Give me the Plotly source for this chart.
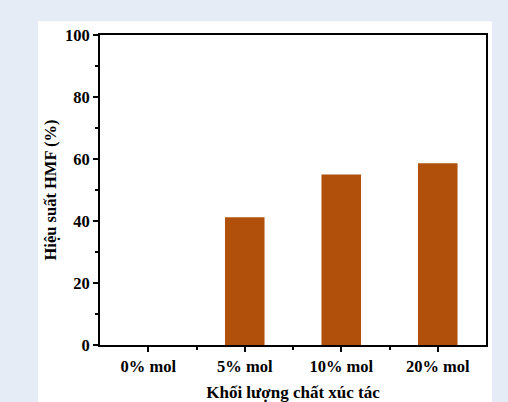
import plotly.graph_objects as go

# Catalyst loading categories and HMF yield (%)
categories = ["0% mol", "5% mol", "10% mol", "20% mol"]
hmf_yield = [0, 41.2, 55.0, 58.6]
y_ticks = [0, 20, 40, 60, 80, 100]

positions = list(range(len(categories)))

BAR_COLOR = "#B0500A"
FONT = "Liberation Serif"

fig = go.Figure(
    go.Bar(
        x=positions,
        y=hmf_yield,
        width=0.41,
        marker=dict(color=BAR_COLOR, line=dict(width=0)),
    )
)

fig.update_layout(
    width=508,
    height=402,
    margin=dict(l=100, r=22, t=35, b=57),
    paper_bgcolor="#E5ECF6",
    plot_bgcolor="white",
    showlegend=False,
    font=dict(family=FONT, color="black"),
    shapes=[
        # white card behind the chart
        dict(
            type="rect", xref="paper", yref="paper",
            x0=(38 - 100) / 386, x1=(492 - 100) / 386,
            y0=-0.19, y1=(345 - 21) / 310.3,
            fillcolor="white", line=dict(width=0), layer="below",
        )
    ],
)

fig.update_xaxes(
    range=[-0.5, 3.5],
    automargin=False,
    tickvals=positions,
    ticktext=categories,
    tickfont=dict(size=16.5, family=FONT, weight="bold"),
    ticks="outside", ticklen=5, tickwidth=2, tickcolor="black",
    minor=dict(tickvals=[0.5, 1.5, 2.5], ticks="outside", ticklen=3,
               tickwidth=2, tickcolor="black"),
    showline=True, linewidth=2, linecolor="black", mirror=True,
    showgrid=False, zeroline=False,
    title=dict(text="Khối lượng chất xúc tác",
               font=dict(size=17, family=FONT, weight="bold"), standoff=11),
)

fig.update_yaxes(
    range=[0, 100],
    automargin=False,
    tickvals=y_ticks,
    tickfont=dict(size=16.5, family=FONT, weight="bold"),
    ticks="outside", ticklen=5, tickwidth=2, tickcolor="black",
    minor=dict(dtick=10, tick0=0, ticks="outside", ticklen=3,
               tickwidth=2, tickcolor="black"),
    showline=True, linewidth=2, linecolor="black", mirror=True,
    showgrid=False, zeroline=False,
    title=dict(text="Hiệu suất HMF (%)",
               font=dict(size=16.5, family=FONT, weight="bold"), standoff=4),
)

fig.write_html("out.html")
